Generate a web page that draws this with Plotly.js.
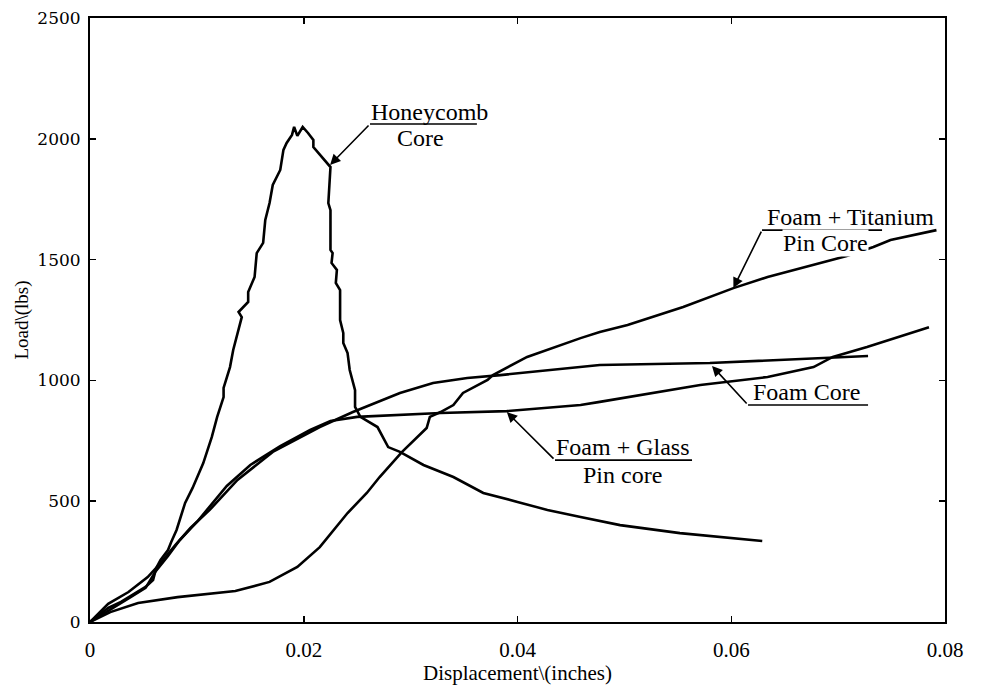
<!DOCTYPE html>
<html>
<head>
<meta charset="utf-8">
<script src="https://cdn.plot.ly/plotly-3.0.1.min.js"></script>
<style>html,body{margin:0;padding:0;background:#fff;}#chart{width:990px;height:685px;}</style>
</head>
<body>
<div id="chart"></div>
<script>
// Honeycomb core
var honeycombX = [0, 0.0017, 0.0029, 0.0042, 0.0052, 0.0059, 0.0062, 0.0066, 0.0073, 0.0076, 0.0081, 0.0089, 0.0096, 0.0106, 0.0114, 0.0119, 0.0125, 0.0125, 0.0131, 0.0134, 0.0139, 0.0142, 0.0139, 0.0148, 0.0148, 0.0154, 0.0156, 0.0162, 0.0164, 0.0168, 0.0171, 0.0178, 0.0181, 0.0184, 0.0189, 0.0191, 0.0194, 0.0199, 0.0204, 0.0209, 0.0209, 0.0225, 0.0223, 0.0225, 0.0225, 0.0227, 0.0226, 0.0231, 0.0230, 0.0234, 0.0234, 0.0237, 0.0237, 0.0241, 0.0243, 0.0248, 0.0248, 0.0253, 0.0269, 0.0279, 0.0290, 0.0312, 0.0340, 0.0368, 0.0400, 0.0428, 0.0459, 0.0496, 0.0552, 0.0629];
var honeycombY = [0, 58, 83, 120, 145, 174, 224, 257, 298, 331, 381, 493, 555, 658, 766, 849, 931, 969, 1055, 1126, 1209, 1262, 1283, 1325, 1366, 1428, 1527, 1569, 1664, 1734, 1809, 1871, 1954, 1983, 2016, 2049, 2012, 2049, 2024, 1995, 1966, 1883, 1734, 1705, 1540, 1527, 1486, 1457, 1403, 1374, 1250, 1196, 1155, 1113, 1043, 960, 890, 849, 807, 724, 704, 650, 600, 534, 497, 464, 435, 401, 368, 335];
// Foam + Titanium pin core
var titaniumX = [0, 0.0019, 0.0045, 0.0082, 0.0136, 0.0168, 0.0194, 0.0215, 0.0241, 0.0259, 0.0271, 0.0292, 0.0315, 0.0318, 0.0328, 0.0340, 0.0349, 0.0372, 0.0377, 0.0409, 0.0459, 0.0477, 0.0503, 0.0555, 0.0602, 0.0634, 0.0708, 0.0733, 0.0749, 0.0792];
var titaniumY = [0, 41, 79, 103, 128, 166, 228, 310, 451, 534, 600, 704, 803, 849, 869, 898, 948, 1002, 1022, 1097, 1175, 1200, 1229, 1304, 1382, 1428, 1515, 1552, 1581, 1622];
// Foam core
var foamX = [0, 0.0017, 0.0036, 0.0054, 0.0066, 0.0080, 0.0094, 0.0112, 0.0138, 0.0171, 0.0215, 0.0246, 0.0290, 0.0321, 0.0353, 0.0384, 0.0477, 0.0580, 0.0728];
var foamY = [0, 75, 124, 186, 244, 319, 389, 464, 588, 704, 807, 869, 948, 989, 1010, 1022, 1064, 1072, 1101];
// Foam + Glass pin core
var glassX = [0, 0.0019, 0.0038, 0.0052, 0.0061, 0.0073, 0.0084, 0.0100, 0.0128, 0.0150, 0.0178, 0.0206, 0.0225, 0.0250, 0.0328, 0.0390, 0.0459, 0.0477, 0.0571, 0.0634, 0.0677, 0.0695, 0.0727, 0.0785];
var glassY = [0, 50, 103, 141, 207, 273, 339, 414, 563, 650, 728, 795, 832, 849, 865, 873, 898, 911, 981, 1014, 1055, 1097, 1138, 1220];

var xTicks = [0, 0.02, 0.04, 0.06, 0.08];
var xTickText = ['0', '0.02', '0.04', '0.06', '0.08'];
var yTicks = [0, 500, 1000, 1500, 2000, 2500];
var yTickText = ['0', '500', '1000', '1500', '2000', '2500'];

var serif = 'Liberation Serif, Times New Roman, serif';
var lineStyle = {color: '#000', width: 2.6};
function tr(x, y, name) {
  return {x: x, y: y, type: 'scatter', mode: 'lines', name: name, line: lineStyle, hoverinfo: 'skip'};
}
var data = [
  tr(honeycombX, honeycombY, 'Honeycomb Core'),
  tr(titaniumX, titaniumY, 'Foam + Titanium Pin Core'),
  tr(foamX, foamY, 'Foam Core'),
  tr(glassX, glassY, 'Foam + Glass Pin core')
];

function label(x, y, text, bg) {
  return {x: x, y: y, xref: 'x', yref: 'y', text: text, showarrow: false,
    font: {family: serif, size: 24, color: '#000'}, bgcolor: bg || 'rgba(0,0,0,0)',
    borderpad: 0, xanchor: 'center', yanchor: 'middle'};
}
function arrow(x, y, ax, ay) {
  return {x: x, y: y, xref: 'x', yref: 'y', ax: ax, ay: ay, axref: 'x', ayref: 'y',
    text: '', showarrow: true, arrowhead: 2, arrowsize: 1.3, arrowwidth: 1.6,
    arrowcolor: '#000', standoff: 0};
}
function uline(x0, x1, y) {
  return {type: 'line', xref: 'x', yref: 'y', x0: x0, x1: x1, y0: y, y1: y,
    line: {color: '#000', width: 1.6}};
}

var layout = {
  width: 990, height: 685,
  margin: {l: 90, r: 45, t: 18, b: 63},
  paper_bgcolor: '#fff', plot_bgcolor: '#fff',
  showlegend: false,
  xaxis: {
    range: [0, 0.08], tickvals: xTicks, ticktext: xTickText,
    ticks: 'inside', ticklen: 6, tickwidth: 1.5, tickcolor: '#000',
    showline: true, linecolor: '#000', linewidth: 2, mirror: 'ticks',
    showgrid: false, zeroline: false, ticklabelstandoff: 8,
    tickfont: {family: serif, size: 21, color: '#000'},
    title: {text: 'Displacement\\(inches)', font: {family: serif, size: 21, color: '#000'}, standoff: 2}
  },
  yaxis: {
    range: [0, 2500], tickvals: yTicks, ticktext: yTickText,
    ticks: 'inside', ticklen: 6, tickwidth: 1.5, tickcolor: '#000',
    showline: true, linecolor: '#000', linewidth: 2, mirror: 'ticks',
    showgrid: false, zeroline: false, ticklabelstandoff: 4,
    tickfont: {family: 'DejaVu Serif, serif', size: 17, color: '#000'},
    title: {text: 'Load\\(lbs)', font: {family: serif, size: 19, color: '#000'}, standoff: 4}
  },
  annotations: [
    label(0.0318, 2111, 'Honeycomb'),
    label(0.0309, 2003, 'Core'),
    arrow(0.02246, 1892, 0.0262, 2061),
    label(0.0712, 1676, 'Foam + Titanium'),
    label(0.0688, 1569, 'Pin Core', '#fff'),
    arrow(0.0602, 1382, 0.06288, 1622),
    label(0.0670, 952, 'Foam Core'),
    arrow(0.0582, 1060, 0.06157, 898),
    label(0.0499, 724, 'Foam + Glass'),
    label(0.0498, 608, 'Pin core'),
    arrow(0.0390, 869, 0.04351, 670)
  ],
  shapes: [
    uline(0.0262, 0.0362, 2061),
    uline(0.06288, 0.07411, 1622),
    uline(0.06157, 0.0728, 898),
    uline(0.04351, 0.05633, 670)
  ]
};

Plotly.newPlot('chart', data, layout, {displayModeBar: false, staticPlot: true});
</script>
</body>
</html>
